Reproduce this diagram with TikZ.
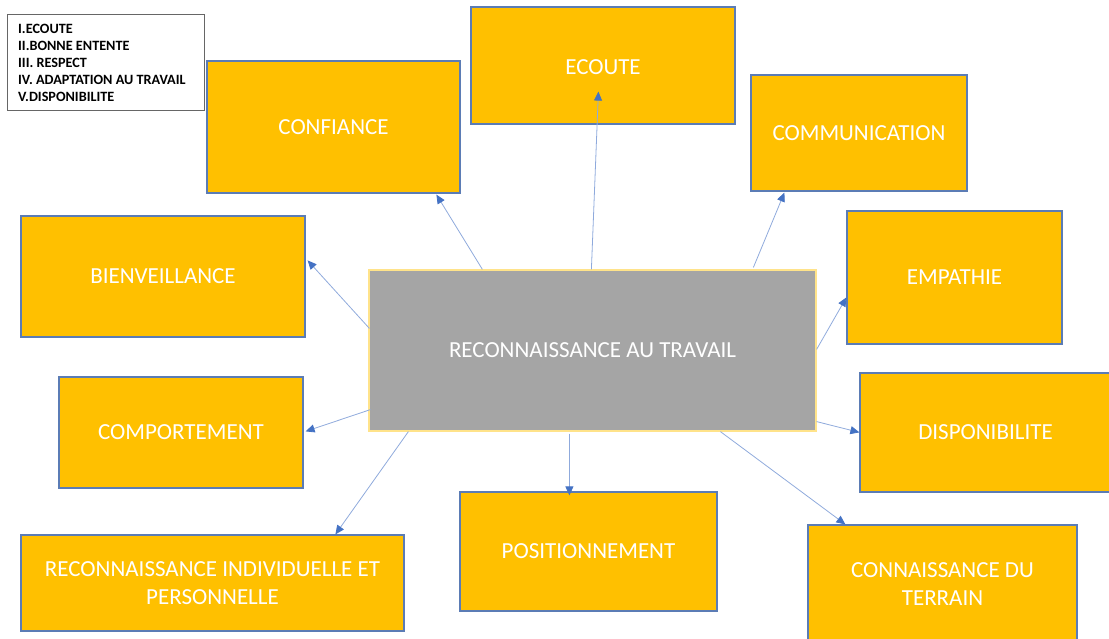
\documentclass[tikz,border=0pt]{standalone}
\usepackage{fontspec}
\setmainfont{Carlito}
\usetikzlibrary{arrows.meta,calc}
\definecolor{boxfill}{HTML}{FFC000}
\definecolor{boxline}{HTML}{5B7CB5}
\definecolor{linkcol}{HTML}{8FAADC}
\definecolor{tipcol}{HTML}{4472C4}
\definecolor{midfill}{HTML}{A5A5A5}
\definecolor{midline}{HTML}{FFE38A}
\begin{document}
\begin{tikzpicture}[x=1pt,y=-1pt,
  box/.style={draw=boxline,line width=1.2pt,fill=boxfill,inner sep=0pt,
    text=white,font=\fontsize{23}{28}\selectfont,align=center},
  boxtext/.style={inner sep=0pt,text=white,font=\fontsize{23}{28}\selectfont,align=center},
  mid/.style={draw=midline,line width=1.2pt,fill=midfill,inner sep=0pt,
    text=white,font=\fontsize{23}{28}\selectfont,align=center},
  link/.style={draw=linkcol,line width=0.8pt,
    -{Triangle[length=9pt,width=8pt,color=tipcol]}},
  legend/.style={draw=black!60,line width=0.6pt,fill=white,inner sep=0pt,
    minimum width=197pt,minimum height=96pt}]
\useasboundingbox (0,0) rectangle (1109,639);
\clip (0,0) rectangle (1109,639);

% legend
\node[legend] (leg) at (105.5,62) {};
\node[anchor=north west,inner sep=0pt,align=left,
  font=\fontsize{14.2}{17}\selectfont\bfseries] (legtext) at (18,23.5)
  {I.ECOUTE\\II.BONNE ENTENTE\\III. RESPECT\\IV. ADAPTATION AU TRAVAIL\\V.DISPONIBILITE};

% boxes
\node[box,minimum width=264pt,minimum height=117pt] (ecoute) at (603,65.5) {};
\node[boxtext] (ecoutet) at (603,67) {ECOUTE};
\node[box,minimum width=253pt,minimum height=132pt] (confiance) at (333.5,127) {CONFIANCE};
\node[box,minimum width=216pt,minimum height=116pt] (comm) at (859,133) {COMMUNICATION};
\node[box,minimum width=284pt,minimum height=121pt] (bienv) at (163,276.5) {BIENVEILLANCE};
\node[box,minimum width=215pt,minimum height=133pt] (empathie) at (954.5,277.5) {EMPATHIE};
\node[mid,minimum width=447pt,minimum height=161pt] (center) at (592.5,350.5) {RECONNAISSANCE AU TRAVAIL};
\node[box,minimum width=244pt,minimum height=111pt] (comport) at (181,432.5) {COMPORTEMENT};
\node[box,minimum width=251pt,minimum height=119pt] (dispo) at (985.5,432.5) {DISPONIBILITE};
\node[box,minimum width=383pt,minimum height=96pt] (recind) at (212.5,583) {RECONNAISSANCE INDIVIDUELLE ET\\PERSONNELLE};
\node[box,minimum width=257pt,minimum height=119pt] (posit) at (588.5,551.5) {POSITIONNEMENT};
\node[box,minimum width=269pt,minimum height=126pt] (terrain) at (942.5,588) {};
\node[boxtext] (terraint) at (942.5,584) {CONNAISSANCE DU\\TERRAIN};

% connectors
\draw[link] ($(center.north west)+(223,0)$) -- ($(ecoute.south west)+(128,-33)$);
\draw[link] ($(center.north west)+(114,0)$) -- ($(confiance.south west)+(230,1)$);
\draw[link] ($(center.north west)+(385,-2)$) -- ($(comm.south west)+(34,1)$);
\draw[link] ($(center.north west)+(1,59)$) -- ($(bienv.north east)+(2,45)$);
\draw[link] ($(center.north east)+(0,80)$) -- ($(empathie.north west)+(0,87)$);
\draw[link] ($(center.south east)+(0,-10)$) -- ($(dispo.north west)+(0,60)$);
\draw[link] ($(center.south west)+(2,-22)$) -- ($(comport.north east)+(2,55)$);
\draw[link] ($(center.south west)+(40,0)$) -- ($(recind.north west)+(315,0)$);
\draw[link] ($(center.south west)+(201,2)$) -- ($(posit.north west)+(110,4)$);
\draw[link] ($(center.south west)+(352,0)$) -- ($(terrain.north west)+(38,0)$);
\end{tikzpicture}
\end{document}
